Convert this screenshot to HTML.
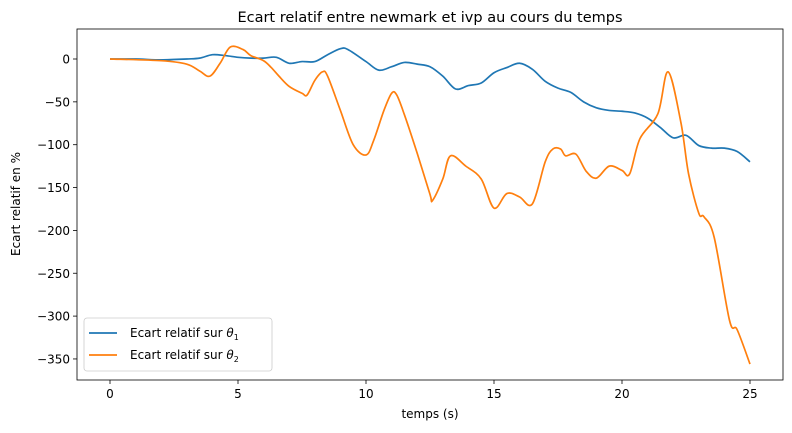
<!DOCTYPE html>
<html><head><meta charset="utf-8"><style>
body{margin:0;background:#fff;}
svg{display:block;font-family:"DejaVu Sans","Liberation Sans",sans-serif;}
</style></head><body>
<svg id="chart" width="792" height="433"></svg>
<script>
const t1 = [0,1,2,3,3.5,4,4.5,5,5.5,6,6.5,7,7.5,8,8.5,9,9.3,10,10.5,11,11.5,12,12.5,13,13.5,14,14.5,15,15.5,16,16.5,17,17.5,18,18.5,19,19.5,20,20.5,21,21.5,22,22.5,23,23.5,24,24.5,25];
const v1 = [0,0,-1,0,1,5,4,2,1,1,2,-5,-3,-3,5,12,11,-3,-13,-9,-4,-6,-9,-20,-35,-31,-28,-16,-10,-5,-12,-26,-34,-39,-50,-57,-60,-61,-63,-69,-80,-92,-89,-101,-104,-104,-108,-120];
const t2 = [0,2,3,3.5,3.9,4.3,4.7,5.2,5.5,6,6.3,6.6,7,7.5,7.7,8,8.3,8.5,9,9.5,10,10.3,10.7,11,11.2,11.5,12,12.5,12.6,13,13.3,13.9,14.5,15,15.5,16,16.5,17,17.3,17.6,17.8,18.2,18.6,19,19.5,20,20.3,20.7,21.4,21.8,22.3,22.6,23,23.2,23.6,24.2,24.5,25];
const v2 = [0,-2,-6,-14,-20,-5,14,11,4,-2,-10,-20,-32,-40,-42,-25,-15,-20,-60,-100,-112,-95,-60,-40,-42,-65,-110,-158,-165,-140,-113,-125,-140,-174,-157,-161,-169,-120,-105,-105,-113,-111,-131,-139,-125,-130,-134,-93,-64,-15,-74,-134,-180,-184,-208,-305,-316,-356];
const xTicks = [0,5,10,15,20,25];
const yTicks = [0,-50,-100,-150,-200,-250,-300,-350];

const svg = document.getElementById('chart');
const NS = 'http://www.w3.org/2000/svg';
const L=77,R=783,T=29,B=380;
const X = t => 110 + t*25.6;
const Y = v => 59 - v*0.857;
function mk(tag, attrs, parent){const e=document.createElementNS(NS,tag);for(const k in attrs)e.setAttribute(k,attrs[k]);(parent||svg).appendChild(e);return e;}
function path(ts, vs){
  const p = ts.map((t,i)=>[X(t),Y(vs[i])]);
  let d = `M${p[0][0]},${p[0][1]}`;
  for(let i=0;i<p.length-1;i++){
    const p0=p[Math.max(0,i-1)],p1=p[i],p2=p[i+1],p3=p[Math.min(p.length-1,i+2)];
    const c1=[p1[0]+(p2[0]-p0[0])/6,p1[1]+(p2[1]-p0[1])/6];
    const c2=[p2[0]-(p3[0]-p1[0])/6,p2[1]-(p3[1]-p1[1])/6];
    d+=` C${c1[0]},${c1[1]} ${c2[0]},${c2[1]} ${p2[0]},${p2[1]}`;
  }
  return d;
}
const title = mk('text',{x:430,y:22,'text-anchor':'middle','font-size':14.5});
title.textContent='Ecart relatif entre newmark et ivp au cours du temps';



xTicks.forEach(t=>{
  const g=mk('g',{});
  
  
  mk('line',{x1:X(t),x2:X(t),y1:B,y2:B+4,stroke:'#000','stroke-width':0.8},g);
  const tx=mk('text',{x:X(t),y:B+18,'text-anchor':'middle','font-size':12},g);tx.textContent=t;
});
yTicks.forEach(v=>{
  const g=mk('g',{});
  
  
  mk('line',{x1:L-4,x2:L,y1:Y(v),y2:Y(v),stroke:'#000','stroke-width':0.8},g);
  const tx=mk('text',{x:L-7,y:Y(v)+4.5,'text-anchor':'end','font-size':12},g);tx.textContent=v===0?'0':'\u2212'+(-v);
});
const xl=mk('text',{x:430,y:418,'text-anchor':'middle','font-size':12});xl.textContent='temps (s)';


const yl=mk('text',{x:20,y:204,'text-anchor':'middle','font-size':12,transform:'rotate(-90 20 204)'});yl.textContent='Ecart relatif en %';



const s1=mk('path',{d:path(t1,v1),fill:'none',stroke:'#1f77b4','stroke-width':1.7});


const s2=mk('path',{d:path(t2,v2),fill:'none',stroke:'#ff7f0e','stroke-width':1.7});



const frame=mk('rect',{x:L,y:T,width:R-L,height:B-T,fill:'none',stroke:'#000','stroke-width':0.8});



const lg=mk('g',{});


mk('rect',{x:84,y:318,width:188,height:53,rx:3,fill:'#fff',stroke:'#ccc','stroke-width':0.8},lg);
[['#1f77b4','1',337],['#ff7f0e','2',359]].forEach(([c,n,y])=>{
  const e=mk('g',{},lg);
  
  
  mk('line',{x1:89,x2:117,y1:y-4,y2:y-4,stroke:c,'stroke-width':1.7},e);
  const tx=mk('text',{x:130,y:y,'font-size':12},e);
  tx.innerHTML='Ecart relatif sur <tspan font-style="italic">θ</tspan><tspan font-size="8" dy="3">'+n+'</tspan>';
});
</script>
</body></html>
